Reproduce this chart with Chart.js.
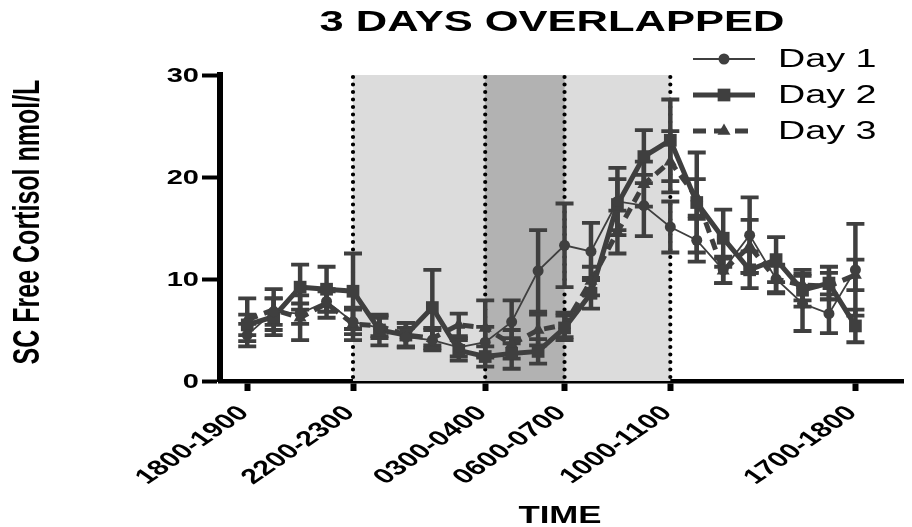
<!DOCTYPE html>
<html>
<head>
<meta charset="utf-8">
<script src="https://cdn.jsdelivr.net/npm/chart.js@4/dist/chart.umd.min.js"></script>
<style>
  html, body { margin: 0; padding: 0; background: #fff; }
  #wrap { width: 912px; height: 527px; }
</style>
</head>
<body>
<div id="wrap"><canvas id="c" width="912" height="527"></canvas></div>
<script>
// Hourly collection windows, 18:00 on day one through 18:00 the next day
const hours = [
  "1800-1900", "1900-2000", "2000-2100", "2100-2200", "2200-2300", "2300-0000",
  "0000-0100", "0100-0200", "0200-0300", "0300-0400", "0400-0500", "0500-0600",
  "0600-0700", "0700-0800", "0800-0900", "0900-1000", "1000-1100", "1100-1200",
  "1200-1300", "1300-1400", "1400-1500", "1500-1600", "1600-1700", "1700-1800"
];
// Windows that carry a tick label on the time axis
const labelledHours = [0, 4, 9, 12, 16, 23];
const yTicks = [0, 10, 20, 30];

// Mean subcutaneous free cortisol (nmol/L) and its error for each day
const day1    = [4.5, 6.8, 6.6, 7.8, 5.8, 5.2, 4.3, 4.0, 3.3, 3.8, 5.8, 10.8, 13.3, 12.7, 17.6, 17.2, 15.1, 13.8, 10.9, 14.3, 10.0, 7.6, 6.6, 10.9];
const day1Err = [1.1, 1.3, 1.0, 1.0, 1.2, 1.0, 0.9, 1.0, 0.9, 1.5, 2.1, 4.0, 4.1, 2.8, 3.3, 3.0, 2.5, 2.1, 1.3, 3.7, 1.4, 2.7, 1.9, 4.5];
const day2    = [5.5, 6.3, 9.2, 9.0, 8.8, 5.0, 4.5, 7.2, 3.0, 2.4, 2.7, 2.9, 5.2, 8.6, 17.3, 22.0, 23.6, 17.5, 14.0, 10.9, 11.9, 8.9, 9.6, 5.4];
const day2Err = [1.0, 1.8, 2.2, 2.2, 3.7, 1.5, 1.2, 3.7, 1.0, 1.0, 1.5, 1.2, 1.2, 1.5, 2.5, 2.6, 4.0, 4.9, 2.8, 1.8, 2.2, 1.6, 1.6, 1.6];
const day3    = [6.0, 7.0, 6.2, 7.6, 5.6, 5.4, 4.5, 4.2, 5.5, 5.2, 3.6, 5.0, 5.5, 9.8, 14.6, 19.3, 21.5, 18.0, 10.8, 13.2, 10.0, 9.4, 9.3, 10.4];
const day3Err = [2.1, 2.0, 2.2, 1.4, 1.6, 1.0, 1.2, 1.0, 1.1, 2.7, 1.4, 1.5, 1.2, 1.4, 2.1, 2.2, 3.0, 1.8, 1.2, 2.6, 1.3, 1.5, 1.3, 1.5];

// Sleep period (light band) and the darker early-morning band, as window indices
const lightBand = [4, 16];
const darkBand = [9, 12];
const markerLines = [4, 9, 12, 16];

const INK = '#3f3f3f';
const FONT = '"Liberation Sans", Arial, Helvetica, sans-serif';
const SX = 1.45; // horizontal widening of all lettering

const toPoints = arr => arr.map((v, i) => ({ x: i, y: v }));

const series = [
  { label: 'Day 1', data: day1, err: day1Err, width: 1.8, dash: [], style: 'circle', radius: 5.5 },
  { label: 'Day 2', data: day2, err: day2Err, width: 5, dash: [], style: 'rect', radius: 9 },
  { label: 'Day 3', data: day3, err: day3Err, width: 5, dash: [11, 7], style: 'triangle', radius: 7.5 }
];

function stretchedText(ctx, s, x, y, font, align, base, rot) {
  ctx.save();
  ctx.translate(x, y);
  ctx.scale(SX, 1);
  ctx.rotate(rot || 0);
  ctx.font = font;
  ctx.textAlign = align;
  ctx.textBaseline = base;
  ctx.fillStyle = '#000';
  ctx.fillText(s, 0, 0);
  ctx.restore();
}

function drawMarker(ctx, style, x, y, r) {
  ctx.save();
  ctx.fillStyle = INK;
  ctx.beginPath();
  if (style === 'circle') {
    ctx.arc(x, y, r, 0, Math.PI * 2);
  } else if (style === 'rect') {
    const h = r * Math.SQRT1_2;
    ctx.rect(x - h, y - h, 2 * h, 2 * h);
  } else {
    ctx.moveTo(x, y - r);
    ctx.lineTo(x + r * Math.sqrt(3) / 2, y + r / 2);
    ctx.lineTo(x - r * Math.sqrt(3) / 2, y + r / 2);
    ctx.closePath();
  }
  ctx.fill();
  ctx.restore();
}

const decor = {
  id: 'decor',
  beforeDatasetsDraw(chart) {
    const { ctx, chartArea: a, scales: { x, y } } = chart;
    ctx.save();
    // shaded bands
    ctx.fillStyle = '#dcdcdc';
    ctx.fillRect(x.getPixelForValue(lightBand[0]), a.top, x.getPixelForValue(lightBand[1]) - x.getPixelForValue(lightBand[0]), a.bottom - a.top);
    ctx.fillStyle = '#b2b2b2';
    ctx.fillRect(x.getPixelForValue(darkBand[0]), a.top, x.getPixelForValue(darkBand[1]) - x.getPixelForValue(darkBand[0]), a.bottom - a.top);
    // dotted boundaries
    ctx.strokeStyle = '#000';
    ctx.lineWidth = 4.2;
    ctx.lineCap = 'round';
    ctx.setLineDash([0, 7.5]);
    markerLines.forEach(v => {
      const px = x.getPixelForValue(v);
      ctx.beginPath();
      ctx.moveTo(px, a.top + 2);
      ctx.lineTo(px, a.bottom);
      ctx.stroke();
    });
    ctx.setLineDash([]);
    ctx.lineCap = 'butt';
    // error bars
    ctx.strokeStyle = INK;
    series.forEach(s => {
      s.data.forEach((v, i) => {
        const px = x.getPixelForValue(i);
        const top = y.getPixelForValue(v + s.err[i]);
        const bot = y.getPixelForValue(Math.max(0, v - s.err[i]));
        ctx.lineWidth = 4.5;
        ctx.beginPath();
        ctx.moveTo(px, top);
        ctx.lineTo(px, bot);
        ctx.stroke();
        ctx.lineWidth = 3.8;
        ctx.beginPath();
        ctx.moveTo(px - 9, top); ctx.lineTo(px + 9, top);
        ctx.moveTo(px - 9, bot); ctx.lineTo(px + 9, bot);
        ctx.stroke();
      });
    });
    ctx.restore();
  },
  afterDraw(chart) {
    const { ctx, chartArea: a, scales: { x, y } } = chart;
    // title
    stretchedText(ctx, '3 DAYS OVERLAPPED', 552, 23, 'bold 30px ' + FONT, 'center', 'middle');
    // value axis
    yTicks.forEach(v => {
      stretchedText(ctx, String(v), 199, y.getPixelForValue(v) + 1, 'bold 20px ' + FONT, 'right', 'middle');
    });
    stretchedText(ctx, 'SC Free Cortisol nmol/L', 29, 222, 'bold 25px ' + FONT, 'center', 'middle', -Math.PI / 2);
    // time axis
    labelledHours.forEach(i => {
      stretchedText(ctx, hours[i], x.getPixelForValue(i) - 3, a.bottom + 29, 'bold 21px ' + FONT, 'right', 'middle', -Math.PI / 4);
    });
    stretchedText(ctx, 'TIME', 560, 516, 'bold 24px ' + FONT, 'center', 'middle');
    // legend
    const rows = [59, 95, 131];
    series.forEach((s, k) => {
      const ly = rows[k];
      ctx.save();
      ctx.strokeStyle = INK;
      ctx.lineWidth = s.width;
      ctx.setLineDash(s.dash.length ? [13, 8] : []);
      ctx.beginPath();
      ctx.moveTo(693, ly);
      ctx.lineTo(755, ly);
      ctx.stroke();
      ctx.restore();
      drawMarker(ctx, s.style, 724, ly, s.radius);
      stretchedText(ctx, s.label, 778, ly + 1, '26px ' + FONT, 'left', 'middle');
    });
  }
};

new Chart(document.getElementById('c'), {
  type: 'line',
  data: {
    datasets: series.map(s => ({
      label: s.label,
      data: toPoints(s.data),
      borderColor: INK,
      backgroundColor: INK,
      borderWidth: s.width,
      borderDash: s.dash,
      pointStyle: s.style,
      pointRadius: s.radius,
      pointBorderWidth: 0,
      pointBackgroundColor: INK,
      tension: 0,
      fill: false
    }))
  },
  options: {
    responsive: false,
    animation: false,
    layout: { padding: { top: 75, right: 0, bottom: 0, left: 0 } },
    plugins: { legend: { display: false }, title: { display: false }, tooltip: { enabled: false } },
    scales: {
      x: {
        type: 'linear',
        min: -1.03,
        max: 24.8,
        afterBuildTicks: s => { s.ticks = labelledHours.map(v => ({ value: v })); },
        afterFit: s => { s.height = 527 - 381; },
        ticks: { display: false },
        grid: { drawOnChartArea: false, drawTicks: true, tickLength: 10, tickWidth: 6, tickColor: '#000' },
        border: { display: true, color: '#000', width: 4.5 }
      },
      y: {
        min: 0,
        max: 30,
        afterFit: s => { s.width = 220; },
        ticks: { display: false, stepSize: 10 },
        grid: { drawOnChartArea: false, drawTicks: true, tickLength: 18, tickWidth: 4, tickColor: '#000' },
        border: { display: true, color: '#000', width: 6 }
      }
    }
  },
  plugins: [decor]
});
</script>
</body>
</html>
